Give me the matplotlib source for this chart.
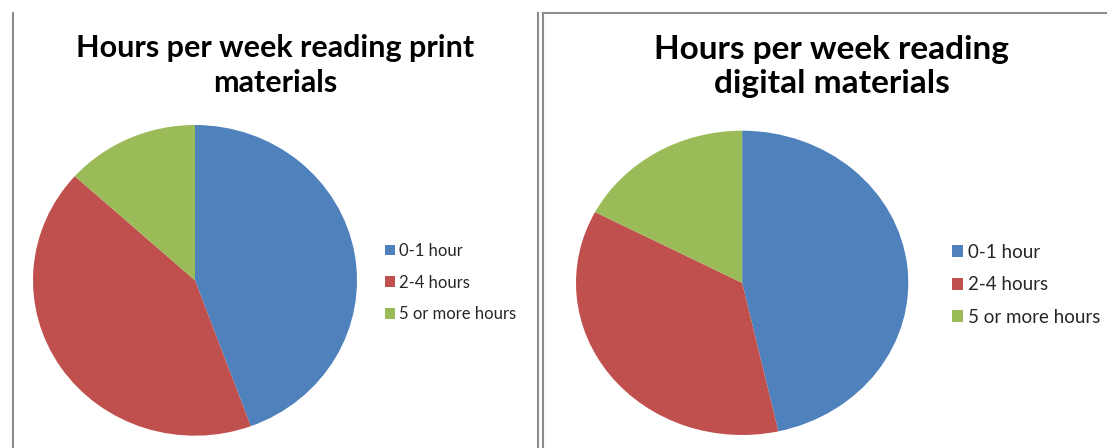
import matplotlib
matplotlib.use("Agg")
import matplotlib.pyplot as plt
from matplotlib.lines import Line2D

categories = ["0-1 hour", "2-4 hours", "5 or more hours"]
print_values = [44.4, 42.3, 13.3]
digital_values = [46.5, 36.2, 17.3]
titles = ["Hours per week reading print\nmaterials",
          "Hours per week reading\ndigital materials"]
colors = ["#4F81BD", "#C0504D", "#9BBB59"]

W, H = 1107, 448
fig = plt.figure(figsize=(W / 100, H / 100), dpi=100)
fig.patch.set_facecolor("white")

def fbox(x0, y0, x1, y1):
    # pixel box (top-down y) -> figure fraction rect
    return [x0 / W, 1 - y1 / H, (x1 - x0) / W, (y1 - y0) / H]

# panel frames
frame_c = "#8C8C8C"
for xs, ys in [([12.5, 12.5], [13, H]), ([537.5, 537.5], [13, H]),
               ([542.5, 542.5], [13, H]), ([542.5, W], [13, 13])]:
    fig.add_artist(Line2D([x / W for x in xs], [1 - y / H for y in ys],
                          color=frame_c, lw=1.5, transform=fig.transFigure))

panels = [
    dict(values=print_values, title=titles[0], box=(33, 125, 357, 435.7),
         title_xy=(275, 34), tsize=22, tls=1.3, leg_xy=(385, 243), lsize=12, lsp=0.94,
         hl=0.6, htp=0.25),
    dict(values=digital_values, title=titles[1], box=(576, 130.7, 908.3, 435),
         title_xy=(832, 35), tsize=24, tls=1.2, leg_xy=(952, 243.5), lsize=13.5, lsp=0.84,
         hl=0.59, htp=0.27),
]

for p in panels:
    ax = fig.add_axes(fbox(*p["box"]))
    wedges, _ = ax.pie(p["values"], colors=colors, startangle=90, counterclock=False,
                       wedgeprops=dict(linewidth=0))
    ax.set_aspect("auto")
    ax.set_xlim(-1, 1)
    ax.set_ylim(-1, 1)
    ax.axis("off")
    fig.text(p["title_xy"][0] / W, 1 - p["title_xy"][1] / H, p["title"],
             ha="center", va="top", fontsize=p["tsize"], fontweight="bold",
             family="Lato", color="black", linespacing=p["tls"])
    leg = fig.legend(wedges, categories, loc="upper left",
                     bbox_to_anchor=(p["leg_xy"][0] / W, 1 - p["leg_xy"][1] / H),
                     frameon=False, handlelength=p["hl"], handleheight=p["hl"],
                     handletextpad=p["htp"], labelspacing=p["lsp"], borderpad=0, borderaxespad=0,
                     prop=dict(family="Lato", size=p["lsize"]))
    for t in leg.get_texts():
        t.set_color("#262626")

fig.savefig("out.png", dpi=100)
